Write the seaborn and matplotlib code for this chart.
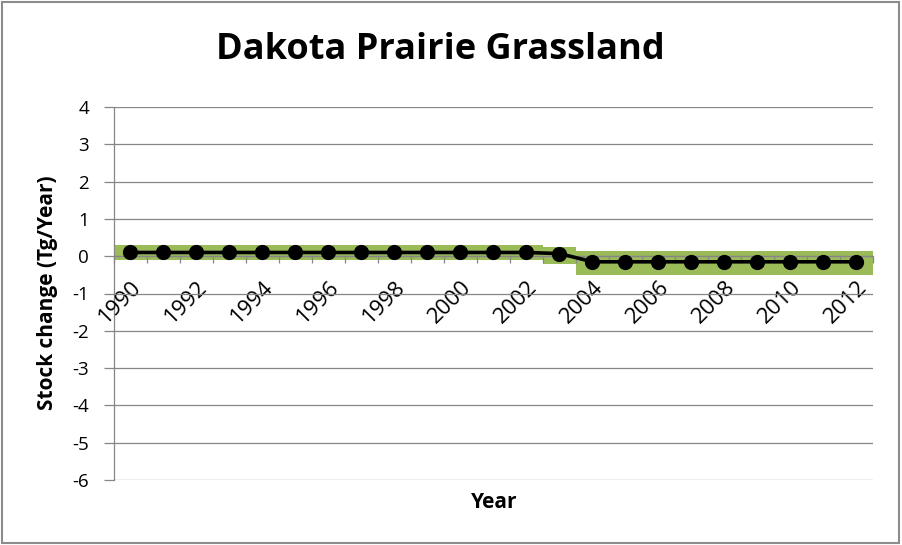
import matplotlib
matplotlib.use("Agg")
import matplotlib.pyplot as plt
from matplotlib.patches import Rectangle
from matplotlib.ticker import FixedLocator, NullFormatter
import numpy as np
import seaborn as sns

# Annual carbon stock change with its uncertainty range
years = [str(y) for y in range(1990, 2013)]
stock_change = [0.1] * 13 + [0.07] + [-0.15] * 9
range_low = [-0.09] * 13 + [-0.2] + [-0.51] * 9
range_high = [0.3] * 13 + [0.25] + [0.15] * 9
y_ticks = [-6, -5, -4, -3, -2, -1, 0, 1, 2, 3, 4]

sns.set_theme(style="white")
plt.rcParams["font.family"] = ["Open Sans", "DejaVu Sans"]
plt.rcParams["text.color"] = "black"

fig = plt.figure(figsize=(9.02, 5.45), dpi=100)
ax = fig.add_axes([114 / 902, 1 - 480 / 545, (873 - 114) / 902, (480 - 107) / 545])

green = "#9BBB59"
gray = "#868686"

band_height = [h - l for h, l in zip(range_high, range_low)]
sns.barplot(x=years, y=band_height, bottom=range_low, width=1.0, color=green,
            saturation=1, linewidth=0, ax=ax, zorder=1)
sns.pointplot(x=years, y=stock_change, color="black", markers="o",
              linestyles="-", markersize=9, linewidth=2.6, ax=ax, zorder=5)

ax.set_xlim(-0.5, len(years) - 0.5)
ax.set_ylim(-6, 4)
ax.set_yticks(y_ticks)
ax.set_yticklabels([str(t) for t in y_ticks])

# horizontal gridlines, drawn over the band
ax.set_axisbelow(False)
ax.grid(axis="y", color=gray, linewidth=0.9, zorder=2)
ax.grid(axis="x", visible=False)

for side in ["top", "right"]:
    ax.spines[side].set_visible(False)
ax.spines["left"].set_color(gray)
ax.spines["left"].set_linewidth(0.9)
ax.spines["bottom"].set_position(("data", 0))
ax.spines["bottom"].set_color(gray)
ax.spines["bottom"].set_linewidth(0.9)

# category axis: labels on every other year, ticks on category boundaries
label_pos = list(range(0, len(years), 2))
ax.xaxis.set_major_locator(FixedLocator(label_pos))
ax.set_xticklabels([years[i] for i in label_pos], rotation=45, ha="right",
                   va="top", rotation_mode="anchor", fontsize=16, color="black")
ax.xaxis.set_minor_locator(FixedLocator(np.arange(-0.5, len(years), 1.0)))
ax.xaxis.set_minor_formatter(NullFormatter())
ax.tick_params(axis="x", which="major", length=0, pad=15)
ax.tick_params(axis="x", which="minor", length=5, width=0.9, color=gray,
               direction="out", bottom=True)
ax.tick_params(axis="y", which="major", length=7, width=0.9, color=gray,
               direction="out", left=True, labelsize=13.5, labelcolor="black", pad=11)

ax.set_xlabel("")
ax.set_ylabel("")
fig.text(48 / 902, 1 - 293 / 545, "Stock change (Tg/Year)", rotation=90,
         ha="center", va="center", fontsize=15, fontweight="bold")
fig.text(494 / 902, 1 - 502 / 545, "Year", ha="center", va="center",
         fontsize=15, fontweight="bold")
fig.text(440 / 902, 1 - 50 / 545, "Dakota Prairie Grassland", ha="center",
         va="center", fontsize=26, fontweight="bold")

fig.patches.append(Rectangle((0.002, 0.003), 0.995, 0.994, transform=fig.transFigure,
                             fill=False, edgecolor="#8c8c8c", linewidth=1.5))

fig.savefig("out.png", dpi=100)
